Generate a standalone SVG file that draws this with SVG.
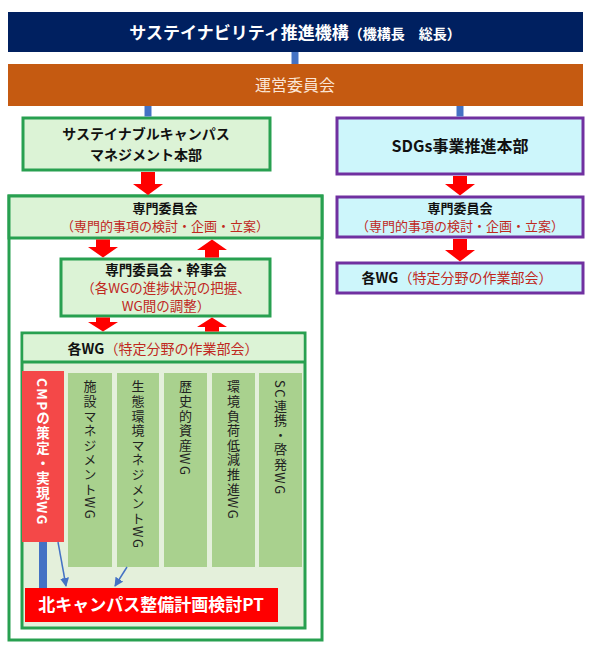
<svg xmlns="http://www.w3.org/2000/svg" width="593" height="648" viewBox="0 0 593 648">
<style>
text{font-family:"Noto Sans CJK JP","Noto Sans",sans-serif;}
.b{font-weight:700;fill:#111;}
.r{fill:#c0281e;}
.g{fill:#dcf3d6;stroke:#28a050;stroke-width:3;}
.p{fill:#cdf6fb;stroke:#7030a0;stroke-width:3;}
.arr{fill:#ff0000;}
.bl{stroke:#4472c4;stroke-width:7;fill:none;}
.v{writing-mode:vertical-rl;font-size:13px;letter-spacing:1.6px;fill:#222;}
.col{fill:#a9d18e;}
</style>
<defs>
<marker id="ah" viewBox="0 0 10 10" refX="9" refY="5" markerWidth="6" markerHeight="6" orient="auto-start-reverse">
<path d="M0,0 L10,5 L0,10 Z" fill="#4472c4"/>
</marker>
</defs>

<g id="top">
<rect x="8" y="12" width="575" height="40" fill="#002060"/>
<text x="295" y="39" text-anchor="middle" fill="#fff" font-weight="700"><tspan font-size="17">サステイナビリティ推進機構</tspan><tspan font-size="14">（機構長　総長）</tspan></text>
</g>

<g id="unei">
<rect x="8" y="64" width="575" height="42" fill="#c55a11"/>
<text x="295" y="91" text-anchor="middle" fill="#fbe5d6" font-size="16">運営委員会</text>
</g>

<g id="campus-hq">
<rect class="g" x="23" y="118" width="247" height="52"/>
<text class="b" x="146" y="139" text-anchor="middle" font-size="14">サステイナブルキャンパス</text>
<text class="b" x="146" y="160" text-anchor="middle" font-size="14">マネジメント本部</text>
</g>

<g id="outer-left">
<rect x="9" y="196" width="313" height="444" fill="#fff" stroke="#28a050" stroke-width="3"/>
</g>

<g id="senmon-left">
<rect class="g" x="9" y="196" width="313" height="42"/>
<text class="b" x="165" y="213" text-anchor="middle" font-size="13">専門委員会</text>
<text class="r" x="165" y="231" text-anchor="middle" font-size="13">（専門的事項の検討・企画・立案）</text>
</g>

<g id="kanji">
<rect class="g" x="61" y="259" width="209" height="57"/>
<text class="b" x="166" y="275" text-anchor="middle" font-size="13.5">専門委員会・幹事会</text>
<text class="r" x="166" y="293" text-anchor="middle" font-size="13.5">（各WGの進捗状況の把握、</text>
<text class="r" x="166" y="311" text-anchor="middle" font-size="13.5">WG間の調整）</text>
</g>

<g id="wg-left">
<rect x="22" y="333" width="283" height="295" fill="#e4f0db" stroke="#28a050" stroke-width="3"/>
<rect x="23.5" y="334.5" width="280" height="27" fill="#dcf3d6"/>
<line x1="22" y1="362" x2="305" y2="362" stroke="#28a050" stroke-width="3"/>
<text x="163" y="354" text-anchor="middle" font-size="14"><tspan class="b">各WG</tspan><tspan class="r">（特定分野の作業部会）</tspan></text>
</g>

<g id="cmp">
<rect x="22" y="371" width="42" height="171" fill="#f44848"/>
<text class="v" x="43" y="378" style="fill:#fff;font-weight:700;font-size:13.5px;letter-spacing:1.4px">CMPの策定・実現WG</text>
</g>

<g id="wg-shisetsu">
<rect class="col" x="68" y="373" width="44" height="194"/>
<text class="v" x="90" y="380">施設マネジメントWG</text>
</g>
<g id="wg-seitai">
<rect class="col" x="117" y="373" width="42" height="194"/>
<text class="v" x="138" y="380">生態環境マネジメントWG</text>
</g>
<g id="wg-rekishi">
<rect class="col" x="164" y="373" width="43" height="194"/>
<text class="v" x="185.5" y="380">歴史的資産WG</text>
</g>
<g id="wg-kankyo">
<rect class="col" x="212" y="373" width="43" height="194"/>
<text class="v" x="233.5" y="380">環境負荷低減推進WG</text>
</g>
<g id="wg-sc">
<rect class="col" x="259" y="373" width="43" height="194"/>
<text class="v" x="280.5" y="380">SC連携・啓発WG</text>
</g>

<g id="pt">
<rect x="25" y="588" width="253" height="34" fill="#ff0000"/>
<text x="151" y="611" text-anchor="middle" fill="#fff" font-weight="700" font-size="17">北キャンパス整備計画検討PT</text>
</g>

<g id="sdgs-hq">
<rect class="p" x="337" y="118" width="246" height="56"/>
<text class="b" x="460" y="152" text-anchor="middle" font-size="16">SDGs事業推進本部</text>
</g>

<g id="senmon-right">
<rect class="p" x="337" y="197" width="246" height="40"/>
<text class="b" x="460" y="213" text-anchor="middle" font-size="13">専門委員会</text>
<text class="r" x="460" y="231" text-anchor="middle" font-size="13">（専門的事項の検討・企画・立案）</text>
</g>

<g id="wg-right">
<rect class="p" x="337" y="263" width="246" height="30"/>
<text x="457" y="283" text-anchor="middle" font-size="14"><tspan class="b">各WG</tspan><tspan class="r">（特定分野の作業部会）</tspan></text>
</g>

<g id="connectors">
<line class="bl" x1="295" y1="52" x2="295" y2="64"/>
<line class="bl" x1="148" y1="106" x2="148" y2="116.5"/>
<line class="bl" x1="460" y1="106" x2="460" y2="116.5"/>
<path class="arr" d="M141 172 H155 V184 H163 L148 195 L133 184 H141 Z"/>
<path class="arr" d="M453 176 H467 V184 H475 L460 195.5 L445 184 H453 Z"/>
<path class="arr" d="M453 239 H467 V250 H475 L460 261.5 L445 250 H453 Z"/>
<path class="arr" d="M96 239.5 H110 V247 H118 L103 257.5 L88 247 H96 Z"/>
<path class="arr" d="M205 257.5 H219 V250 H227 L212 239.5 L197 250 H205 Z"/>
<path class="arr" d="M96 317.5 H110 V322 H118 L103 331.5 L88 322 H96 Z"/>
<path class="arr" d="M205 331.5 H219 V327 H227 L212 317.5 L197 327 H205 Z"/>
<line x1="43" y1="542" x2="43" y2="588" stroke="#4472c4" stroke-width="8"/>
<line x1="58" y1="542" x2="66" y2="586" stroke="#4472c4" stroke-width="1.5" marker-end="url(#ah)"/>
<line x1="127" y1="567" x2="115" y2="586" stroke="#4472c4" stroke-width="1.5" marker-end="url(#ah)"/>
</g>
</svg>
